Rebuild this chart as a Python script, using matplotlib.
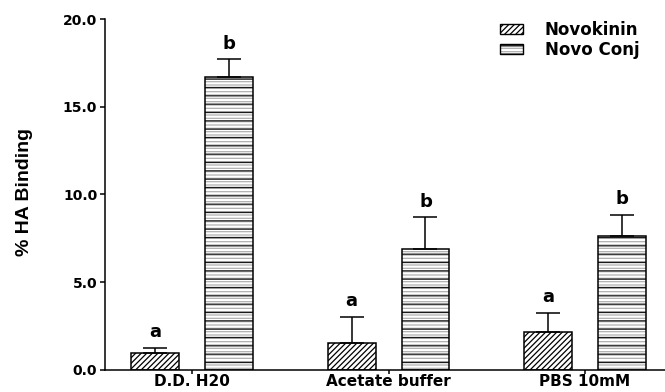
import matplotlib
matplotlib.use("Agg")
import matplotlib.pyplot as plt
import numpy as np
from matplotlib.patches import Patch
from matplotlib.legend_handler import HandlerTuple

# data
groups = ["D.D. H20", "Acetate buffer", "PBS 10mM"]
novokinin = [0.96, 1.51, 2.14]
novokinin_err = [0.25, 1.49, 1.09]
novo_conj = [16.71, 6.90, 7.65]
novo_conj_err = [1.03, 1.80, 1.18]
novokinin_letters = ["a", "a", "a"]
novo_conj_letters = ["b", "b", "b"]
series_names = ["Novokinin", "Novo Conj"]

plt.rcParams["hatch.linewidth"] = 0.9

fig = plt.figure(figsize=(6.65, 3.92), dpi=100)
ax = fig.add_axes([105 / 665, 22.5 / 392, 560 / 665, 350 / 392])

x = np.arange(len(groups))
w = 0.244
off = 0.188

# Novokinin: dense diagonal hatch
ax.bar(x - off, novokinin, w, facecolor="white", edgecolor="black",
       hatch="//////", linewidth=1.1, zorder=2)
ax.errorbar(x - off, novokinin, yerr=[np.zeros(3), novokinin_err], fmt="none",
            ecolor="black", elinewidth=1.1, capsize=8.5, capthick=1.1, zorder=3)

# Novo Conj: gray fine horizontal lines with darker lines every few
ax.bar(x + off, novo_conj, w, facecolor="white", edgecolor="#b0b0b0",
       hatch="-----", linewidth=0, zorder=2)
ax.bar(x + off, novo_conj, w, facecolor="none", edgecolor="#1a1a1a",
       hatch="--", linewidth=0, zorder=2)
ax.bar(x + off, novo_conj, w, facecolor="none", edgecolor="black",
       linewidth=1.1, zorder=2)
ax.errorbar(x + off, novo_conj, yerr=[np.zeros(3), novo_conj_err], fmt="none",
            ecolor="black", elinewidth=1.1, capsize=8.5, capthick=1.1, zorder=3)

for xi, v, e, t in zip(x - off, novokinin, novokinin_err, novokinin_letters):
    ax.text(xi, v + e + 0.65, t, ha="center", va="baseline",
            fontsize=13, fontweight="bold", family="DejaVu Sans")
for xi, v, e, t in zip(x + off, novo_conj, novo_conj_err, novo_conj_letters):
    ax.text(xi, v + e + 0.6, t, ha="center", va="baseline",
            fontsize=13, fontweight="bold", family="DejaVu Sans")

ax.set_ylim(0, 20)
ax.set_xlim(-0.443, 2.407)
ax.set_yticks([0, 5, 10, 15, 20])
ax.set_yticklabels([f"{t:.1f}" for t in [0, 5, 10, 15, 20]],
                   fontsize=10, fontweight="bold", family="DejaVu Sans")
ax.set_xticks(x)
ax.set_xticklabels(groups, fontsize=11, fontweight="bold", family="DejaVu Sans")

for s in ["top", "right"]:
    ax.spines[s].set_visible(False)
for s in ["left", "bottom"]:
    ax.spines[s].set_linewidth(1.1)
ax.tick_params(axis="y", length=3.6, width=1.1, pad=2)
ax.tick_params(axis="x", length=3, width=1.1, pad=0.5)

ax.set_ylabel("% HA Binding", fontsize=14, fontweight="bold",
              family="Liberation Sans", va="center")
ax.yaxis.set_label_coords(-0.143, 0.506)

# legend
h1 = Patch(facecolor="white", edgecolor="black", hatch="//////", linewidth=1.0)
h2a = Patch(facecolor="white", edgecolor="#b0b0b0", hatch="-----", linewidth=0)
h2b = Patch(facecolor="none", edgecolor="black", hatch="--", linewidth=1.0)
fig.legend([h1, (h2a, h2b)], series_names, loc="upper left",
           bbox_to_anchor=(500 / 665, 1 - 21 / 392),
           handler_map={tuple: HandlerTuple(ndivide=1)},
           frameon=False, borderpad=0, borderaxespad=0,
           handlelength=1.38, handleheight=0.55, handletextpad=1.3,
           labelspacing=0.1,
           prop={"family": "DejaVu Sans", "weight": "bold", "size": 12})

fig.savefig("out.png", dpi=100)
